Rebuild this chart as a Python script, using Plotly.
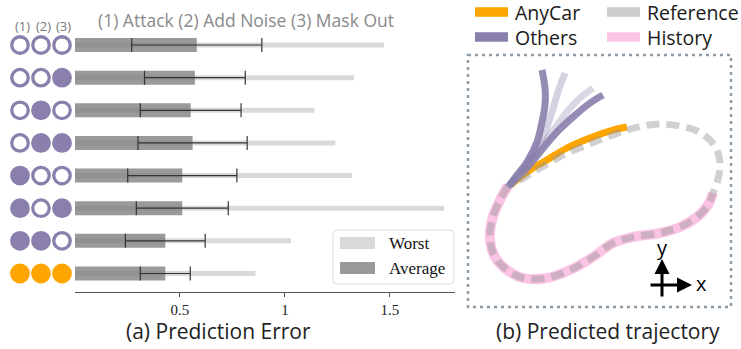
import plotly.graph_objects as go

# ---------------- data: (a) prediction error ----------------
rows = [0, 1, 2, 3, 4, 5, 6, 7]
attack_on = [0, 0, 0, 0, 1, 1, 1, 1]
noise_on = [0, 0, 1, 1, 0, 0, 1, 1]
mask_on = [0, 1, 0, 1, 0, 1, 0, 1]
is_anycar = [0, 0, 0, 0, 0, 0, 0, 1]
avg_err = [0.58, 0.571, 0.551, 0.56, 0.511, 0.511, 0.43, 0.43]
std_err = [0.31, 0.24, 0.24, 0.26, 0.26, 0.219, 0.19, 0.119]
worst_err = [1.471, 1.329, 1.14, 1.24, 1.319, 1.759, 1.029, 0.86]
tick_vals = [0.5, 1, 1.5]
tick_text = ["0.5", "1", "1.5"]
col_labels = ["(1)", "(2)", "(3)"]

# ---------------- data: (b) predicted trajectory (panel pixel space) ----------------
history_x = [508, 500, 492, 490, 495, 507, 523, 547, 570, 593, 613, 633, 660, 680, 697, 708, 713]
history_y = [186, 200, 220, 240, 257, 270, 278, 278, 270, 257, 243, 237, 233, 227, 217, 205, 193]
reference_x = [508, 500, 492, 490, 495, 507, 523, 547, 570, 593, 613, 633, 660, 680, 697, 708, 713,
               717, 720, 718, 710, 697, 680, 660, 643, 627, 607, 587, 563, 547, 530, 512]
reference_y = [186, 200, 220, 240, 257, 270, 278, 278, 270, 257, 243, 237, 233, 227, 217, 205, 193,
               183, 167, 153, 140, 131, 126, 124, 126, 130, 137, 145, 155, 164, 174, 185]
anycar_x = [510, 530, 547, 567, 590, 613, 627]
anycar_y = [185, 170, 160, 148, 138, 130, 127]
others = [
    ([508, 517, 527, 537, 542, 545, 545, 542], [187, 175, 162, 142, 122, 105, 88, 70], 0.9),
    ([510, 530, 545, 552, 558, 565], [185, 160, 132, 112, 92, 73], 0.35),
    ([510, 530, 550, 567, 580, 593], [185, 162, 135, 112, 98, 88], 0.3),
    ([510, 527, 540, 557, 573, 590, 603], [185, 168, 152, 132, 117, 103, 95], 0.9),
]
legend_left = ["AnyCar", "Others"]
legend_right = ["Reference", "History"]

PURPLE = "#8a7fad"
ORANGE = "#ffa500"
PINK = "#fbc4e4"
GRAYREF = "#cccccc"
SANS = "Open Sans"
SERIF = "Liberation Serif"

fig = go.Figure()

# bars
fig.add_trace(go.Bar(orientation="h", x=worst_err, y=rows, width=0.153,
                     marker=dict(color="#d9d9d9", line=dict(width=0)),
                     showlegend=False, xaxis="x", yaxis="y"))
fig.add_trace(go.Bar(orientation="h", x=avg_err, y=rows, width=0.43,
                     marker=dict(color="rgba(120,120,120,0.75)", line=dict(width=0)),
                     error_x=dict(type="data", array=std_err, color="#333333",
                                  thickness=1.2, width=7),
                     showlegend=False, xaxis="x", yaxis="y"))

# circle indicator matrix
col_x = [20, 41, 62]
for cx, flags in zip(col_x, [attack_on, noise_on, mask_on]):
    fills, lines = [], []
    for f, a in zip(flags, is_anycar):
        c = ORANGE if a else PURPLE
        fills.append(c if f else "white")
        lines.append(c)
    fig.add_trace(go.Scatter(x=[cx] * len(rows), y=rows, mode="markers",
                             marker=dict(size=16.5, color=fills,
                                         line=dict(color=lines, width=3.3)),
                             showlegend=False, xaxis="x3", yaxis="y", hoverinfo="skip"))

# trajectories
fig.add_trace(go.Scatter(x=history_x, y=history_y, mode="lines",
                         line=dict(color=PINK, width=10, shape="spline"),
                         showlegend=False, xaxis="x2", yaxis="y2"))
fig.add_trace(go.Scatter(x=anycar_x, y=anycar_y, mode="lines",
                         line=dict(color=ORANGE, width=7, shape="spline"),
                         showlegend=False, xaxis="x2", yaxis="y2"))
for ox, oy, op in others:
    fig.add_trace(go.Scatter(x=ox, y=oy, mode="lines", opacity=op,
                             line=dict(color=PURPLE, width=7, shape="spline"),
                             showlegend=False, xaxis="x2", yaxis="y2"))
fig.add_trace(go.Scatter(x=reference_x, y=reference_y, mode="lines",
                         line=dict(color="rgba(150,150,150,0.45)", width=7,
                                   shape="spline", dash="13px,7px"),
                         showlegend=False, xaxis="x2", yaxis="y2"))

shapes = []
annotations = []

# dotted frame of panel (b)
shapes.append(dict(type="rect", xref="x2", yref="y2", x0=468, y0=55, x1=731, y1=307,
                   line=dict(color="#8d9ca8", width=2.5, dash="3px,4px")))

# left legend (manual)
r = 4
x0, y0, x1, y1 = 333, 230, 454, 284
path = (f"M {x0+r},{y0} L {x1-r},{y0} Q {x1},{y0} {x1},{y0+r} L {x1},{y1-r} "
        f"Q {x1},{y1} {x1-r},{y1} L {x0+r},{y1} Q {x0},{y1} {x0},{y1-r} "
        f"L {x0},{y0+r} Q {x0},{y0} {x0+r},{y0} Z")
shapes.append(dict(type="path", xref="x2", yref="y2", path=path,
                   line=dict(color="#dddddd", width=1), fillcolor="white"))
shapes.append(dict(type="rect", xref="x2", yref="y2", x0=340, y0=237, x1=375, y1=249,
                   line=dict(width=0), fillcolor="#d9d9d9"))
shapes.append(dict(type="rect", xref="x2", yref="y2", x0=340, y0=262, x1=375, y1=274,
                   line=dict(width=0), fillcolor="#999999"))
annotations.append(dict(x=387, y=243, xref="x2", yref="y2", text="Worst", showarrow=False,
                        xanchor="left", yanchor="middle", font=dict(family=SERIF, size=17, color="#111")))
annotations.append(dict(x=387, y=268, xref="x2", yref="y2", text="Average", showarrow=False,
                        xanchor="left", yanchor="middle", font=dict(family=SERIF, size=17, color="#111")))

# right legend (manual): swatches + two-line label blocks
for col, lx, ly in [(ORANGE, 475, 12), (PURPLE, 475, 37), (GRAYREF, 607, 12), (PINK, 607, 37)]:
    shapes.append(dict(type="line", xref="x2", yref="y2", x0=lx, x1=lx + 33, y0=ly, y1=ly,
                       line=dict(color=col, width=9.5)))
for names, lx in [(legend_left, 514), (legend_right, 646)]:
    annotations.append(dict(x=lx, y=25, xref="x2", yref="y2", text="<br>".join(names),
                            showarrow=False, xanchor="left", yanchor="middle", align="left",
                            borderpad=0, font=dict(family=SANS, size=19.5, color="#1a1a1a")))

# titles
annotations.append(dict(x=246, y=20, xref="x2", yref="y2", text="(1) Attack (2) Add Noise (3) Mask Out",
                        showarrow=False, font=dict(family=SANS, size=17.5, color="#8a8a8a")))
for cx, lab in zip([22, 43, 63], col_labels):
    annotations.append(dict(x=cx, y=26, xref="x2", yref="y2", text=lab, showarrow=False,
                            font=dict(family=SANS, size=13, color="#777")))
annotations.append(dict(x=218, y=330.5, xref="x2", yref="y2", text="(a) Prediction Error",
                        showarrow=False, borderpad=0,
                        font=dict(family=SANS, size=21, color="#222")))
annotations.append(dict(x=608, y=330.5, xref="x2", yref="y2", text="(b) Predicted trajectory",
                        showarrow=False, borderpad=0,
                        font=dict(family=SANS, size=21, color="#222")))

# x-y orientation glyph
annotations.append(dict(x=662, y=259, ax=662, ay=298, xref="x2", yref="y2", axref="x2", ayref="y2",
                        text="", showarrow=True, arrowhead=2, arrowsize=1, arrowwidth=3, arrowcolor="black"))
annotations.append(dict(x=692, y=285, ax=649, ay=285, xref="x2", yref="y2", axref="x2", ayref="y2",
                        text="", showarrow=True, arrowhead=2, arrowsize=1, arrowwidth=3, arrowcolor="black"))
annotations.append(dict(x=662, y=247, xref="x2", yref="y2", text="y", showarrow=False,
                        font=dict(family=SANS, size=20, color="black")))
annotations.append(dict(x=701, y=283, xref="x2", yref="y2", text="x", showarrow=False,
                        font=dict(family=SANS, size=20, color="black")))

W, H = 741, 349
fig.update_layout(
    width=W, height=H, margin=dict(l=0, r=0, t=0, b=0),
    paper_bgcolor="white", plot_bgcolor="rgba(0,0,0,0)",
    barmode="overlay", showlegend=False,
    xaxis=dict(domain=[75 / W, 455 / W], range=[0, 1.81], anchor="y",
               tickvals=tick_vals, ticktext=tick_text, ticks="outside", ticklen=4,
               tickcolor="#555", showline=True, linecolor="#555", linewidth=1,
               showgrid=False, zeroline=False,
               tickfont=dict(family=SERIF, size=15, color="#222")),
    yaxis=dict(domain=[1 - 292 / H, 1 - 26.5 / H], range=[7.567, -0.567], anchor="x",
               visible=False, showgrid=False, zeroline=False),
    xaxis3=dict(domain=[0, 75 / W], range=[0, 75], anchor="y", visible=False),
    xaxis2=dict(domain=[0, 1], range=[0, W], anchor="y2", visible=False),
    yaxis2=dict(domain=[0, 1], range=[H, 0], anchor="x2", visible=False),
    shapes=shapes, annotations=annotations,
)

fig.write_html("out.html", config={"displayModeBar": False},
               post_script="document.body.style.margin='0';")
